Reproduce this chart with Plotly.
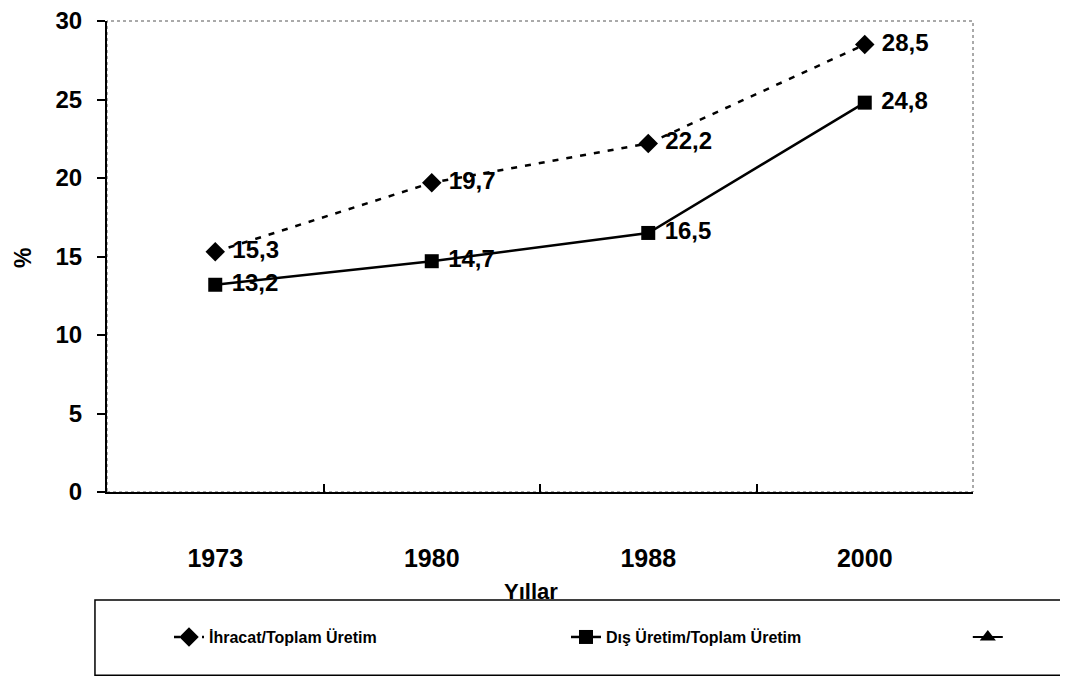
import plotly.graph_objects as go

# data
years = ['1973', '1980', '1988', '2000']
ihracat = [15.3, 19.7, 22.2, 28.5]      # İhracat/Toplam Üretim
dis_uretim = [13.2, 14.7, 16.5, 24.8]   # Dış Üretim/Toplam Üretim
third_series = [None, None, None, None]  # empty series, only shows in legend

BOLD = dict(family='Liberation Sans, Arial, sans-serif', color='black', weight='bold')

fig = go.Figure()

fig.add_trace(go.Scatter(
    x=years, y=ihracat, name='İhracat/Toplam Üretim', legend='legend',
    mode='lines+markers+text',
    line=dict(color='black', width=2.5, dash='6px,8px'),
    marker=dict(symbol='diamond', size=15, color='black'),
    texttemplate='\u00a0%{y:.1f}', textposition='middle right',
    textfont=dict(size=24, **BOLD), cliponaxis=False,
))
fig.add_trace(go.Scatter(
    x=years, y=dis_uretim, name='Dış Üretim/Toplam Üretim', legend='legend2',
    mode='lines+markers+text',
    line=dict(color='black', width=2.5),
    marker=dict(symbol='square', size=14, color='black'),
    texttemplate='\u00a0%{y:.1f}', textposition='middle right',
    textfont=dict(size=24, **BOLD), cliponaxis=False,
))
fig.add_trace(go.Scatter(
    x=years, y=third_series, name=' ', legend='legend3',
    mode='lines+markers',
    line=dict(color='black', width=2),
    marker=dict(symbol='triangle-up', size=14, color='black'),
))

fig.update_xaxes(
    type='category', range=[-0.5, 3.5],
    showline=True, linecolor='black', linewidth=2,
    ticks='inside', tickson='boundaries', ticklen=8, tickwidth=2, tickcolor='black',
    ticklabelstandoff=43, tickfont=dict(size=25, **BOLD),
    showgrid=False, zeroline=False,
)
fig.update_yaxes(
    range=[0, 30], dtick=5,
    showline=True, linecolor='black', linewidth=2,
    ticks='outside', ticklen=8, tickwidth=2, tickcolor='black',
    ticklabelstandoff=10, tickfont=dict(size=24, **BOLD),
    ticklabeloverflow='allow',
    showgrid=False, zeroline=False,
)

# thin dotted frame around plot area (top/right edges)
fig.add_shape(type='rect', xref='paper', yref='paper', x0=0, x1=1, y0=0, y1=1,
              line=dict(color='#555', width=1, dash='dot'), layer='below')
# legend box
fig.add_shape(type='rect', xref='paper', yref='paper',
              x0=-0.0139, x1=1.12, y0=-0.389, y1=-0.2293,
              line=dict(color='black', width=1.5))

fig.add_annotation(text='Yıllar', xref='paper', yref='paper', x=0.49, y=-0.212,
                   showarrow=False, yanchor='middle', font=dict(size=22, **BOLD))
fig.add_annotation(text='%', xref='paper', yref='paper', x=-0.097, y=0.497,
                   xanchor='center', showarrow=False, textangle=-90,
                   font=dict(size=23, **BOLD))

leg_font = dict(size=16, family='Liberation Sans, Arial', color='black', weight='bold')
leg_common = dict(orientation='h', xanchor='left', y=-0.308, yanchor='middle',
                  font=leg_font, bgcolor='rgba(0,0,0,0)', borderwidth=0)

fig.update_layout(
    width=1060, height=670,
    margin=dict(l=99, r=95, t=13, b=186, autoexpand=False),
    paper_bgcolor='white', plot_bgcolor='white',
    separators=',.',
    showlegend=True,
    legend=dict(x=0.0716, **leg_common),
    legend2=dict(x=0.53, **leg_common),
    legend3=dict(x=0.994, **leg_common),
)

fig.write_html('out.html')
